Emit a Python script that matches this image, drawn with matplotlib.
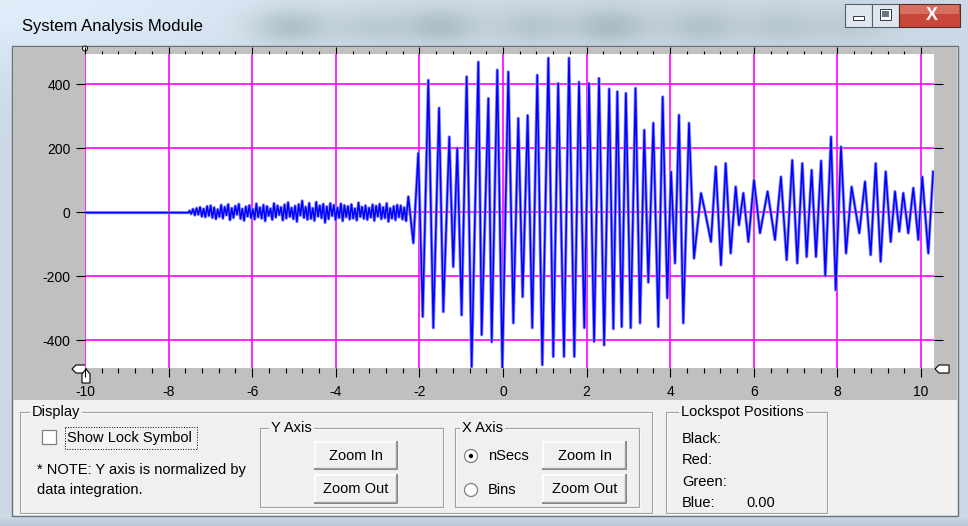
import numpy as np
import matplotlib.pyplot as plt
from matplotlib.patches import Rectangle, Polygon, Circle
from matplotlib.ticker import MultipleLocator

plt.rcParams['font.family'] = ['Liberation Sans', 'DejaVu Sans']
plt.rcParams['axes.unicode_minus'] = False

# flat baseline before the trigger
flat_t = [-10.0, -7.52]
flat_v = [-2, -2]

# low level pickup noise, evenly sampled from noise_start to noise_end
noise_start = -7.5
noise_end = -2.32
noise_v = [4, -6, 9, -10, 12, -8, 15, -14, 10, -16, 18, -12,
           20, -18, 14, -22, 8, -15, 22, -20, 16, -10, 24, -25, 12, -18,
           19, -8, 25, -21, 10, -27, 17, -14, 21, -19, 9, -23, 26, -16,
           14, -20, 22, -28, 18, -12, 11, -24, 27, -17, 20, -9, 15, -26,
           23, -20, 30, -15, 13, -22, 19, -30, 24, -11, 35, -18, 16, -24,
           28, -21, 12, -27, 31, -14, 20, -19, 25, -33, 17, -22, 27, -12,
           22, -25, 14, -18, 26, -28, 21, -16, 18, -23, 24, -20, 11, -26,
           29, -15, 16, -21, 20, -24, 13, -17, 23, -27, 19, -14, 25, -22,
           15, -19, 27, -30, 12, -20, 18, -25, 22, -16, 20, -23, 14, -28]

# peaks and troughs of the ringing burst (nsec, amplitude)
burst_t = [-2.265, -2.145, -2.026, -1.92, -1.787, -1.667, -1.53, -1.428,
           -1.285, -1.19, -1.094, -0.99, -0.87, -0.75, -0.59, -0.51,
           -0.35, -0.27, -0.136, -0.016, 0.127, 0.247, 0.366, 0.47,
           0.59, 0.70, 0.82, 0.94, 1.085, 1.203, 1.32, 1.459,
           1.579, 1.706, 1.818, 1.945, 2.057, 2.18, 2.297, 2.42,
           2.54, 2.64, 2.735, 2.84, 2.94, 3.055, 3.17, 3.278,
           3.38, 3.477, 3.596, 3.715, 3.82, 3.93, 4.02, 4.115,
           4.21, 4.313, 4.45, 4.57, 4.737, 4.82, 4.976, 5.09,
           5.215, 5.327, 5.447, 5.567, 5.645, 5.75, 5.87, 6.005,
           6.148, 6.33, 6.507, 6.65, 6.786, 6.92, 7.04, 7.16,
           7.264, 7.384, 7.488, 7.61, 7.71, 7.847, 7.96, 8.086,
           8.206, 8.34, 8.524, 8.66, 8.796, 8.916, 9.035, 9.155,
           9.275, 9.378, 9.48, 9.576, 9.696, 9.816, 9.935, 10.03,
           10.175, 10.29]
burst_v = [48, -97, 184, -327, 412, -362, 325, -312,
           235, -171, 200, -322, 423, -484, 469, -384,
           355, -406, 444, -488, 438, -347, 293, -265,
           302, -362, 428, -478, 481, -452, 402, -452,
           481, -452, 406, -362, 402, -405, 418, -416,
           385, -365, 376, -359, 371, -362, 387, -347,
           256, -220, 278, -359, 360, -269, 126, -160,
           303, -347, 278, -145, 59, 10, -93, 142,
           -166, 152, -129, 79, -41, 59, -93, 100,
           -66, 64, -87, 110, -150, 162, -160, 152,
           -140, 131, -140, 160, -200, 235, -244, 204,
           -129, 79, -66, 95, -134, 152, -155, 126,
           -93, 64, -61, 59, -66, 75, -87, 110,
           -129, 126]

xticks = [-10, -8, -6, -4, -2, 0, 2, 4, 6, 8, 10]
yticks = [-400, -200, 0, 200, 400]

noise_t = list(np.linspace(noise_start, noise_end, len(noise_v)))
trace_t = flat_t + noise_t + burst_t
trace_v = flat_v + noise_v + burst_v

fig = plt.figure(figsize=(9.68, 5.26), dpi=100)

# window chrome drawn in pixel coordinates
bg = fig.add_axes([0, 0, 1, 1])
bg.set_xlim(0, 968)
bg.set_ylim(526, 0)
bg.axis('off')

yy, xx = np.mgrid[0:526, 0:968]
glass = np.empty((526, 968, 3))
glass[...] = [0.80, 0.85, 0.90]
glass += (0.08 * np.exp(-((xx / 320.0) ** 2 + (yy / 70.0) ** 2)))[..., None]
glass -= (0.08 * np.clip((yy - 516) / 10.0, 0, 1))[..., None]
for bx, amt in [(290, 0.14), (370, 0.08), (440, 0.13), (530, 0.09), (610, 0.13),
                (700, 0.1), (780, 0.08), (850, 0.06)]:
    blob = amt * np.exp(-(((xx - bx) / 38.0) ** 2 + ((yy - 26) / 18.0) ** 2))
    glass -= blob[..., None] * np.array([1.0, 0.85, 1.05])
glass = np.clip(glass, 0, 1)
bg.imshow(glass, extent=(0, 968, 526, 0), aspect='auto', zorder=0)

bg.text(22, 27, 'System Analysis Module', fontsize=12, va='center', ha='left')

# caption buttons
bg.add_patch(Rectangle((845, 4), 27, 23, fc='#dfe6ee', ec='#56606b', lw=0.8))
bg.add_patch(Rectangle((853, 16), 11, 4, fc='white', ec='#303840', lw=0.7))
bg.add_patch(Rectangle((872, 4), 27, 23, fc='#dfe6ee', ec='#56606b', lw=0.8))
bg.add_patch(Rectangle((880, 9), 11, 11, fc='white', ec='#303840', lw=0.7))
bg.add_patch(Rectangle((882, 11), 7, 6, fc='#6a7480', ec='none'))
bg.add_patch(Rectangle((899, 4), 61, 23, fc='#c8473a', ec='#5a2a25', lw=0.8))
bg.add_patch(Rectangle((900, 5), 59, 9, fc='#e08a7c', ec='none', alpha=0.6))
bg.text(932, 16, 'X', fontsize=13, fontweight='bold', color='white',
        ha='center', va='center')

# client area
bg.add_patch(Rectangle((12, 46), 946, 470, fc='#f0f0f0', ec='#66727e', lw=1.0))
bg.add_patch(Rectangle((13, 47), 944, 353, fc='#c0c0c0', ec='none'))


def group(x0, y0, x1, y1, label, lx):
    bg.add_patch(Rectangle((x0 + 1, y0 + 1), x1 - x0, y1 - y0, fc='none', ec='white', lw=0.8))
    bg.add_patch(Rectangle((x0, y0), x1 - x0, y1 - y0, fc='none', ec='#a0a0a0', lw=0.8))
    bg.text(lx, y0, label, fontsize=10.5, ha='left', va='center',
            bbox=dict(fc='#f0f0f0', ec='none', pad=1.5))


def button(x0, y0, x1, y1, label):
    bg.add_patch(Rectangle((x0, y0), x1 - x0, y1 - y0, fc='#f0f0f0', ec='none'))
    bg.plot([x0, x0, x1], [y1, y0, y0], color='white', lw=1.2)
    bg.plot([x0, x1, x1], [y1, y1, y0], color='#696969', lw=1.2)
    bg.plot([x0 + 1, x1 - 1, x1 - 1], [y1 - 1.5, y1 - 1.5, y0 + 1], color='#a0a0a0', lw=1)
    bg.text((x0 + x1) / 2, (y0 + y1) / 2, label, fontsize=10.5, ha='center', va='center')


group(20, 412, 652, 513, 'Display', 32)
group(260, 428, 443, 507, 'Y Axis', 271)
group(455, 428, 639, 507, 'X Axis', 462)
group(666, 412, 827, 513, 'Lockspot Positions', 681)

bg.add_patch(Rectangle((42, 430), 14, 14, fc='white', ec='#808080', lw=0.9))
bg.add_patch(Rectangle((65, 427), 132, 22, fc='none', ec='black', lw=0.7, ls=':'))
bg.text(67, 438, 'Show Lock Symbol', fontsize=10.5, ha='left', va='center')
bg.text(37, 470, '* NOTE: Y axis is normalized by', fontsize=10.5, ha='left', va='center')
bg.text(37, 490, 'data integration.', fontsize=10.5, ha='left', va='center')

button(315, 442, 397, 469, 'Zoom In')
button(315, 475, 397, 503, 'Zoom Out')
button(543, 442, 626, 469, 'Zoom In')
button(543, 475, 626, 503, 'Zoom Out')

bg.add_patch(Circle((471, 456), 6.5, fc='white', ec='#808080', lw=0.9))
bg.add_patch(Circle((471, 456), 2.2, fc='black', ec='none'))
bg.add_patch(Circle((471, 490), 6.5, fc='white', ec='#808080', lw=0.9))
bg.text(488, 456, 'nSecs', fontsize=10.5, ha='left', va='center')
bg.text(488, 490, 'Bins', fontsize=10.5, ha='left', va='center')

bg.text(682, 439, 'Black:', fontsize=10.5, ha='left', va='center')
bg.text(682, 460, 'Red:', fontsize=10.5, ha='left', va='center')
bg.text(682, 482, 'Green:', fontsize=10.5, ha='left', va='center')
bg.text(682, 503, 'Blue:', fontsize=10.5, ha='left', va='center')
bg.text(746, 503, '0.00', fontsize=10.5, ha='left', va='center')

# lockspot flags
bg.add_patch(Polygon([(72, 369), (76, 365), (86, 365), (86, 373), (76, 373)],
                     closed=True, fc='white', ec='black', lw=0.8, zorder=5))
bg.add_patch(Polygon([(82, 374), (86, 369), (90, 374), (90, 383), (82, 383)],
                     closed=True, fc='white', ec='black', lw=0.8, zorder=5))
bg.add_patch(Polygon([(935, 369), (939, 365), (949, 365), (949, 373), (939, 373)],
                     closed=True, fc='white', ec='black', lw=0.8, zorder=5))
bg.add_patch(Circle((85, 48.5), 2.5, fc='white', ec='black', lw=0.7, zorder=5))

# trace plot
ax = fig.add_axes([85 / 968, 1 - 368 / 526, 849 / 968, 314 / 526])
ax.plot(trace_t, trace_v, color='#8c8cff', lw=2.3)
ax.plot(trace_t, trace_v, color='#0000ff', lw=1.1)
ax.set_xlim(-10, 10.311)
ax.set_ylim(-487.5, 493.75)
ax.set_xticks(xticks)
ax.set_yticks(yticks)
ax.xaxis.set_minor_locator(MultipleLocator(0.4))
ax.grid(True, which='major', color='#ff00ff', lw=1.2)
ax.set_axisbelow(True)
for s in ax.spines.values():
    s.set_visible(False)
ax.tick_params(axis='x', which='major', length=6.5, width=0.8, pad=6, labelsize=10)
ax.tick_params(axis='x', which='minor', length=3.5, width=0.8)
ax.tick_params(axis='y', which='major', length=6.5, width=0.8, pad=4, labelsize=10)

top = ax.secondary_xaxis('top')
top.set_xticks(xticks)
top.xaxis.set_minor_locator(MultipleLocator(0.4))
top.tick_params(which='major', length=5, width=0.8, labeltop=False)
top.tick_params(which='minor', length=2.5, width=0.8)
top.spines['top'].set_visible(False)

right = ax.secondary_yaxis('right')
right.set_yticks(yticks)
right.tick_params(length=6.5, width=0.8, labelright=False)
right.spines['right'].set_visible(False)

fig.savefig('out.png', dpi=100)
